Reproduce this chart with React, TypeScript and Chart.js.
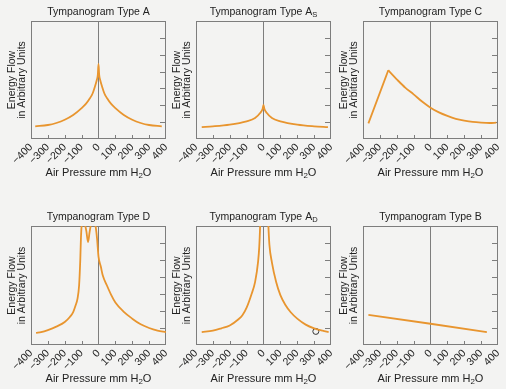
import React, { useEffect, useRef } from "react";
import { Chart, registerables } from "chart.js";

Chart.register(...registerables);

// ---- tick values ----
const xTickValues = [-400, -300, -200, -100, 0, 100, 200, 300, 400];
const yTickValues = [1, 2, 3, 4, 5, 6];

// ---- Type A ----
const typeAX = [-375, -300, -250, -200, -150, -100, -75, -50, -35, -20, -10, -4, 0, 4, 10, 20, 35, 50, 75, 100, 150, 200, 250, 300, 375];
const typeAY = [0.75, 0.83, 0.95, 1.14, 1.42, 1.83, 2.08, 2.43, 2.7, 3.15, 3.5, 3.8, 4.45, 3.8, 3.5, 3.15, 2.7, 2.43, 2.08, 1.83, 1.42, 1.14, 0.95, 0.83, 0.75];

// ---- Type As ----
const typeAsX = [-366, -300, -200, -100, -50, -20, -5, 0, 5, 20, 50, 100, 200, 300, 382];
const typeAsY = [0.71, 0.75, 0.85, 1.05, 1.24, 1.54, 1.8, 2.03, 1.8, 1.54, 1.24, 1.05, 0.85, 0.75, 0.7];

// ---- Type C ----
const typeCRiseX = [-368, -250];
const typeCRiseY = [0.93, 4.08];
const typeCDecayX = [-250, -225, -200, -150, -100, -50, 0, 50, 100, 150, 200, 250, 300, 350, 390];
const typeCDecayY = [4.08, 3.8, 3.54, 3.05, 2.65, 2.22, 1.86, 1.58, 1.37, 1.2, 1.09, 1.01, 0.97, 0.95, 0.97];

// ---- Type D ----
const typeDX = [-370, -340, -300, -250, -200, -170, -150, -135, -125, -115, -108, -104, -98, -90, -82, -72, -62, -52, -42, -32, -24, -16, -8, 0, 14, 25, 50, 75, 100, 150, 200, 250, 300, 350, 400];
const typeDY = [0.71, 0.76, 0.88, 1.08, 1.35, 1.65, 1.94, 2.35, 2.7, 3.5, 5.0, 6.3, 7.2, 7.35, 7.15, 6.7, 6.05, 6.7, 7.2, 7.35, 7.3, 6.9, 6.2, 5.2, 4.6, 4.1, 3.5, 2.95, 2.5, 1.95, 1.55, 1.22, 1.0, 0.85, 0.76];

// ---- Type Ad ----
const typeAdLeftX = [-366, -300, -250, -200, -150, -125, -100, -73, -50, -32, -25, -20, -16];
const typeAdLeftY = [0.76, 0.84, 0.98, 1.15, 1.5, 1.75, 2.2, 2.93, 3.7, 4.9, 5.8, 7.0, 8.3];
const typeAdRightX = [24, 29, 35, 50, 75, 100, 130, 160, 200, 250, 300, 350, 386];
const typeAdRightY = [8.3, 7.0, 5.9, 4.85, 3.7, 2.93, 2.35, 1.94, 1.55, 1.2, 0.98, 0.84, 0.76];
const typeAdMarkX = [310];
const typeAdMarkY = [0.8];

// ---- Type B ----
const typeBX = [-368, 0, 334];
const typeBY = [1.77, 1.25, 0.76];

const ORANGE = "#e8952f";
const FRAME = "#7d7d7d";
const TEXT = "#222222";
const FONT = "'Liberation Sans', Arial, sans-serif";

const pts = (xs: number[], ys: number[]) => xs.map((x, i) => ({ x, y: ys[i] }));

const curve = (xs: number[], ys: number[], mode: string = "monotone") => ({
  data: pts(xs, ys),
  borderColor: ORANGE,
  borderWidth: 1.8,
  pointRadius: 0,
  fill: false,
  cubicInterpolationMode: mode === "monotone" ? "monotone" : "default",
  tension: mode === "monotone" ? 0.4 : 0,
});

type Panel = {
  title: string;
  sub: string;
  datasets: any[];
  left: number;
  top: number;
  width: number;
  height: number;
  pad: { left: number; right: number; top: number; bottom: number };
};

const colGeom = [
  { left: 0, width: 168, pl: 31, pr: 2 },
  { left: 168, width: 168, pl: 28, pr: 5 },
  { left: 336, width: 170, pl: 27, pr: 8 },
];
const rowGeom = [
  { top: 0, height: 195, pt: 21, pb: 16 },
  { top: 195, height: 194, pt: 31, pb: 4 },
];

const mk = (r: number, c: number, title: string, sub: string, datasets: any[]): Panel => ({
  title,
  sub,
  datasets,
  left: colGeom[c].left,
  top: rowGeom[r].top,
  width: colGeom[c].width,
  height: rowGeom[r].height,
  pad: { left: colGeom[c].pl, right: colGeom[c].pr, top: rowGeom[r].pt, bottom: rowGeom[r].pb },
});

const panels: Panel[] = [
  mk(0, 0, "Tympanogram Type A", "", [curve(typeAX, typeAY)]),
  mk(0, 1, "Tympanogram Type A", "S", [curve(typeAsX, typeAsY)]),
  mk(0, 2, "Tympanogram Type C", "", [curve(typeCRiseX, typeCRiseY, "linear"), curve(typeCDecayX, typeCDecayY)]),
  mk(1, 0, "Tympanogram Type D", "", [curve(typeDX, typeDY)]),
  mk(1, 1, "Tympanogram Type A", "D", [
    curve(typeAdLeftX, typeAdLeftY),
    curve(typeAdRightX, typeAdRightY),
    {
      data: pts(typeAdMarkX, typeAdMarkY),
      showLine: false,
      pointRadius: 3,
      pointBorderWidth: 1,
      pointBorderColor: "#333333",
      pointBackgroundColor: "rgba(0,0,0,0)",
    },
  ]),
  mk(1, 2, "Tympanogram Type B", "", [curve(typeBX, typeBY, "linear")]),
];

const drawSubText = (
  ctx: CanvasRenderingContext2D,
  main: string,
  sub: string,
  tail: string,
  cx: number,
  cy: number,
  size: number
) => {
  const mainFont = `${size}px ${FONT}`;
  const subFont = `${size * 0.72}px ${FONT}`;
  ctx.font = mainFont;
  const w1 = ctx.measureText(main).width;
  const w3 = tail ? ctx.measureText(tail).width : 0;
  ctx.font = subFont;
  const w2 = sub ? ctx.measureText(sub).width : 0;
  const total = w1 + w2 + w3;
  let x = cx - total / 2;
  ctx.textBaseline = "middle";
  ctx.textAlign = "left";
  ctx.fillStyle = TEXT;
  ctx.font = mainFont;
  ctx.fillText(main, x, cy);
  x += w1;
  if (sub) {
    ctx.font = subFont;
    ctx.fillText(sub, x, cy + size * 0.3);
    x += w2;
  }
  if (tail) {
    ctx.font = mainFont;
    ctx.fillText(tail, x, cy);
  }
};

const panelPlugin = {
  id: "panelText",
  beforeDatasetsDraw(chart: any) {
    const { ctx, chartArea } = chart;
    const { left, right, top, bottom } = chartArea;
    ctx.save();
    ctx.strokeStyle = FRAME;
    ctx.lineWidth = 1;
    ctx.strokeRect(Math.round(left) + 0.5, Math.round(top) + 0.5, Math.round(right - left) - 1, Math.round(bottom - top) - 1);
    const ys = chart.scales.y;
    ctx.beginPath();
    for (const v of yTickValues) {
      const y = Math.round(ys.getPixelForValue(v)) + 0.5;
      ctx.moveTo(right - 6, y);
      ctx.lineTo(right, y);
    }
    const xs = chart.scales.x;
    for (const v of xTickValues) {
      if (v === 0 || Math.abs(v) === 400) continue;
      const x = Math.round(xs.getPixelForValue(v)) + 0.5;
      ctx.moveTo(x, bottom);
      ctx.lineTo(x, bottom - 4);
    }
    ctx.stroke();
    ctx.restore();
  },
  afterDraw(chart: any, _args: any, opts: any) {
    const { ctx, chartArea } = chart;
    const { left, right, top, bottom } = chartArea;
    const cx = (left + right) / 2;
    const cy = (top + bottom) / 2;
    ctx.save();
    drawSubText(ctx, opts.title, opts.sub, "", cx, top - 9, 10.5);
    drawSubText(ctx, "Air Pressure mm H", "2", "O", cx, bottom + 34, 11);
    ctx.fillStyle = TEXT;
    ctx.font = `10.5px ${FONT}`;
    ctx.textAlign = "center";
    ctx.textBaseline = "middle";
    ctx.translate(left - 19, cy);
    ctx.rotate(-Math.PI / 2);
    ctx.fillText("Energy Flow", 0, 0);
    ctx.restore();
    ctx.save();
    ctx.fillStyle = TEXT;
    ctx.font = `10.5px ${FONT}`;
    ctx.textAlign = "center";
    ctx.textBaseline = "middle";
    ctx.translate(left - 8.5, cy);
    ctx.rotate(-Math.PI / 2);
    ctx.fillText("in Arbitrary Units", 0, 0);
    ctx.restore();
  },
};

function PanelChart({ p }: { p: Panel }) {
  const ref = useRef<HTMLCanvasElement | null>(null);
  useEffect(() => {
    if (!ref.current) return;
    const chart = new Chart(ref.current, {
      type: "line",
      data: { datasets: p.datasets },
      plugins: [panelPlugin],
      options: {
        animation: false,
        responsive: false,
        devicePixelRatio: 1,
        layout: { padding: p.pad },
        plugins: {
          legend: { display: false },
          tooltip: { enabled: false },
          title: { display: false },
          panelText: { title: p.title, sub: p.sub },
        } as any,
        scales: {
          x: {
            type: "linear",
            min: -400,
            max: 400,
            afterBuildTicks: (s: any) => {
              s.ticks = xTickValues.map((v) => ({ value: v }));
            },
            afterFit: (s: any) => {
              s.height = 40;
              s.paddingLeft = 0;
              s.paddingRight = 0;
            },
            ticks: {
              autoSkip: false,
              minRotation: 45,
              maxRotation: 45,
              padding: 2,
              color: TEXT,
              font: { family: FONT, size: 10.5 },
              callback: (v: any) => (Number(v) < 0 ? "\u2212" + Math.abs(Number(v)) : String(v)),
            },
            grid: {
              drawTicks: false,
              lineWidth: 1,
              color: (c: any) => (c.tick && c.tick.value === 0 ? FRAME : "rgba(0,0,0,0)"),
            },
            border: { display: false },
          },
          y: {
            type: "linear",
            min: 0,
            max: 7,
            display: false,
          },
        },
      } as any,
    });
    return () => chart.destroy();
  }, [p]);
  return (
    <div style={{ position: "absolute", left: p.left, top: p.top, width: p.width, height: p.height }}>
      <canvas ref={ref} width={p.width} height={p.height} style={{ width: p.width, height: p.height, display: "block" }} />
    </div>
  );
}

export default function App() {
  return (
    <div style={{ position: "absolute", left: 0, top: 0, width: 506, height: 389, background: "#f3f3f2", overflow: "hidden" }}>
      {panels.map((p, i) => (
        <PanelChart key={i} p={p} />
      ))}
    </div>
  );
}
